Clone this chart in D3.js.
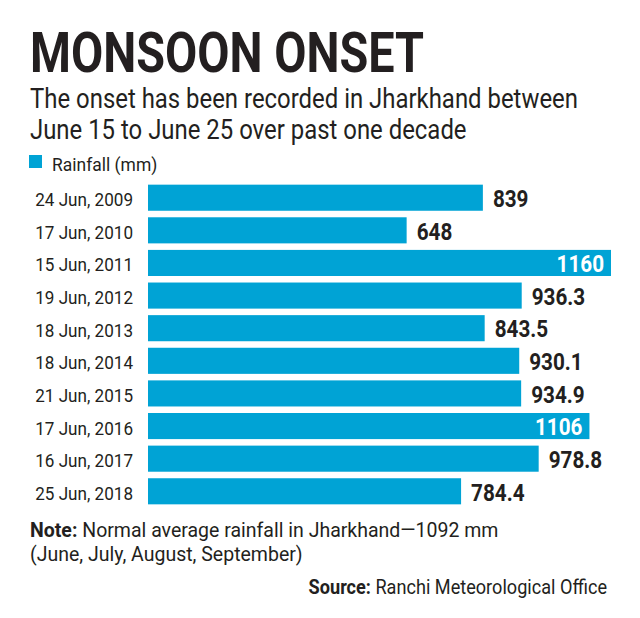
<!DOCTYPE html>
<html><head><meta charset="utf-8">
<script src="https://cdn.jsdelivr.net/npm/d3@7"></script>
<style>body{margin:0;background:#fff}svg{display:block}</style>
</head><body>
<svg id="c" width="640" height="618"></svg>
<script>
const categories = ["24 Jun, 2009","17 Jun, 2010","15 Jun, 2011","19 Jun, 2012","18 Jun, 2013","18 Jun, 2014","21 Jun, 2015","17 Jun, 2016","16 Jun, 2017","25 Jun, 2018"];
const rainfall = [839, 648, 1160, 936.3, 843.5, 930.1, 934.9, 1106, 978.8, 784.4];
const valueLabels = ["839","648","1160","936.3","843.5","930.1","934.9","1106","978.8","784.4"];
const insideLabels = [false,false,true,false,false,false,false,true,false,false];

const ink = "#231f20", blue = "#00a3d5";
const FONT = "Roboto, 'Open Sans', sans-serif";
const svg = d3.select("#c");

function txt(x, y, s, size, weight, sx, anchor, fill) {
  return svg.append("text")
    .attr("transform", `translate(${x},${y}) scale(${sx},1)`)
    .attr("font-family", FONT).attr("font-size", size).attr("font-weight", weight)
    .attr("text-anchor", anchor || "start").attr("fill", fill || ink).text(s);
}

// Title
txt(30, 72, "MONSOON ONSET", 56, 700, 1, "start")
  .attr("textLength", 394).attr("lengthAdjust", "spacingAndGlyphs");
// Subtitle
const s1 = txt(30, 108, "The onset has been recorded in Jharkhand between", 27, 400, 1);
const w1 = s1.node().getComputedTextLength();
const sub = 548 / w1;
s1.attr("transform", `translate(30,108) scale(${sub},1)`);
txt(30, 139, "June 15 to June 25 over past one decade", 27, 400, sub);

// Legend
svg.append("rect").attr("x", 29).attr("y", 155).attr("width", 13).attr("height", 13).attr("fill", blue);
txt(52, 171, "Rainfall (mm)", 19, 400, 0.92);

// Scales
const x = d3.scaleLinear().domain([0, 1160]).range([148, 611]);
const y = d3.scaleBand().domain(categories).range([181.4, 507.6]).paddingInner(0.2).paddingOuter(0.1);

svg.append("g").selectAll("rect").data(rainfall).join("rect")
  .attr("x", x(0)).attr("y", (d, i) => y(categories[i]))
  .attr("width", d => x(d) - x(0)).attr("height", y.bandwidth())
  .attr("fill", blue);

// Category labels
categories.forEach((c, i) => {
  txt(133, y(c) + y.bandwidth() / 2 + 8.5, c, 19, 400, 0.9, "end");
});

// Value labels
rainfall.forEach((v, i) => {
  const cy = y(categories[i]) + y.bandwidth() / 2 + 9.3;
  if (insideLabels[i]) {
    txt(x(v) - 7, cy, valueLabels[i], 23, 700, 0.9, "end", "#fff");
  } else {
    txt(x(v) + 10, cy, valueLabels[i], 23, 700, 0.9, "start");
  }
});

// Note
const note = svg.append("text").attr("transform", "translate(30,537) scale(1,1)")
  .attr("font-family", FONT).attr("font-size", 19.5).attr("fill", ink);
note.append("tspan").attr("font-weight", 700).text("Note:");
note.append("tspan").attr("font-weight", 400).text(" Normal average rainfall in Jharkhand\u20141092 mm");
txt(30, 561, "(June, July, August, September)", 19.5, 400, 1);

// Source
const src = svg.append("text").attr("transform", "translate(607,594) scale(0.93,1)")
  .attr("font-family", FONT).attr("font-size", 19.5).attr("fill", ink).attr("text-anchor", "end");
src.append("tspan").attr("font-weight", 700).text("Source:");
src.append("tspan").attr("font-weight", 400).text(" Ranchi Meteorological Office");
</script>
</body></html>
